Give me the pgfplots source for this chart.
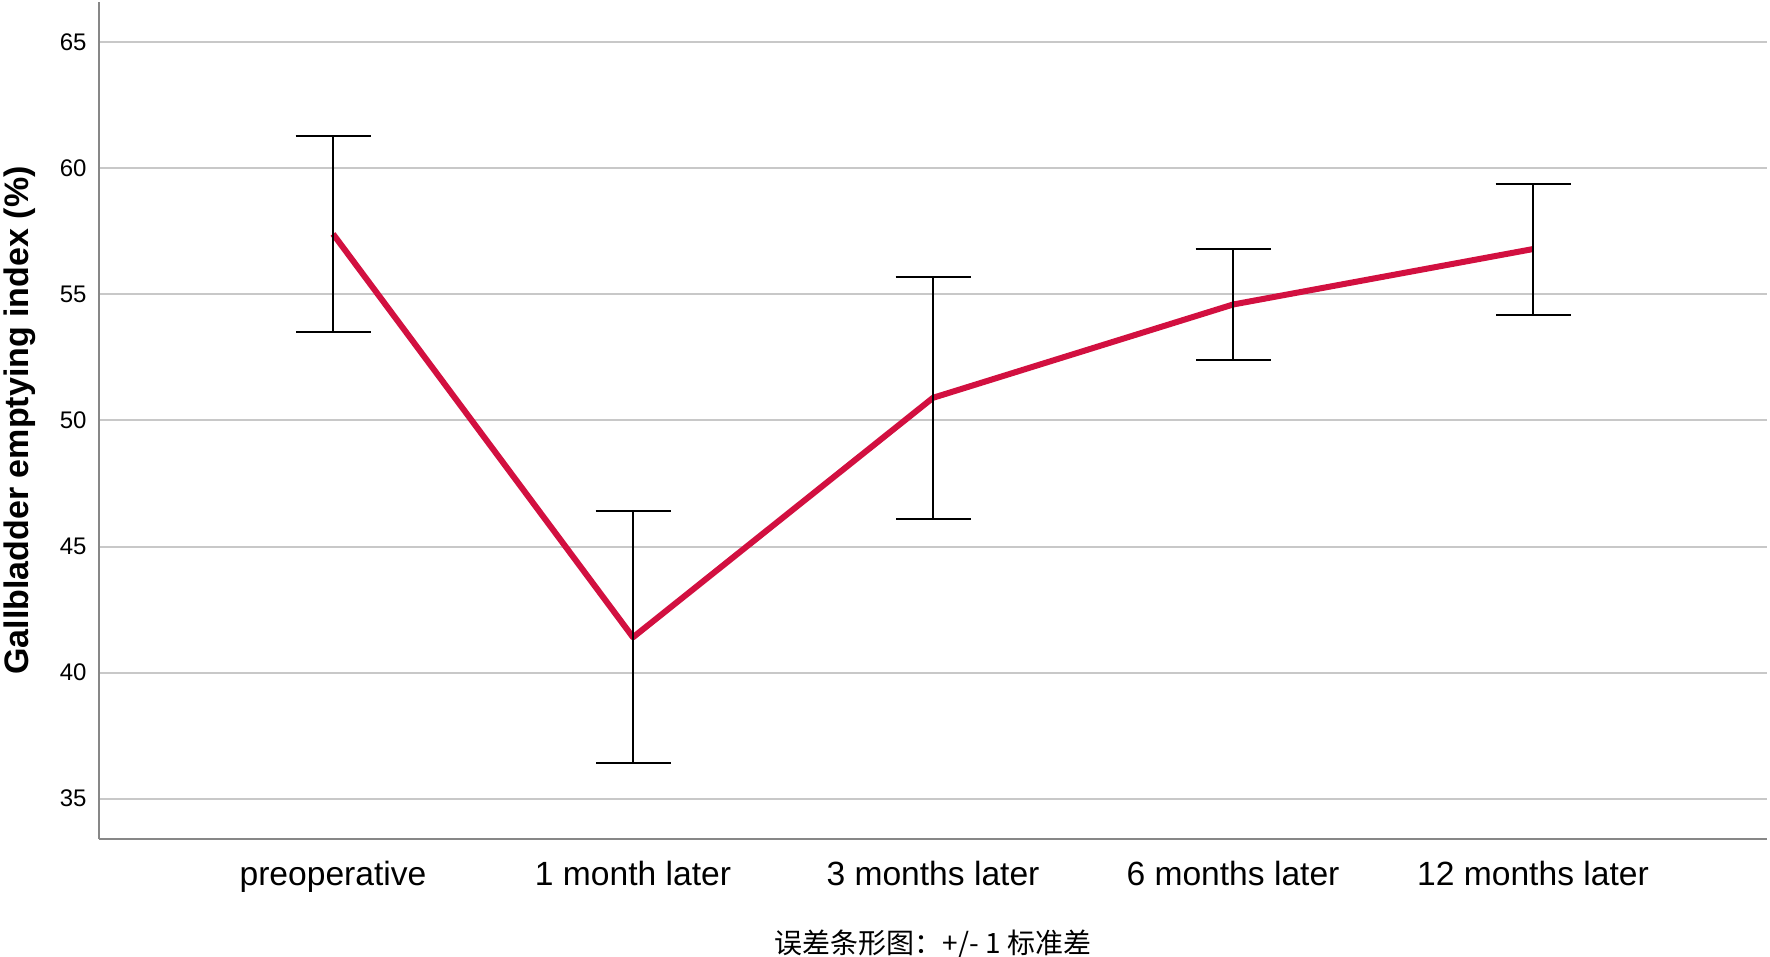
\documentclass[border=0pt]{standalone}
\usepackage{fontspec}
\setmainfont{Liberation Sans}
\newfontfamily\cjk{Noto Sans CJK SC}
\usepackage{pgfplots}
\pgfplotsset{compat=1.18}
\usepackage{pgfplotstable}
\definecolor{linered}{RGB}{210,16,64}
\definecolor{gridgray}{RGB}{200,200,200}
\definecolor{axisgray}{RGB}{135,135,135}

% mean and +/- 1 SD
\pgfplotstableread{
x  y     ep    em
0  57.4  3.9   3.9
1  41.4  5.0   5.0
2  50.9  4.8   4.8
3  54.6  2.2   2.2
4  56.8  2.6   2.6
}\gbdata

\begin{document}
\begin{tikzpicture}
\begin{axis}[
  scale only axis,
  width=834pt, height=418.5pt,
  xmin=-0.78, xmax=4.78,
  ymin=33.4, ymax=66.6,
  axis x line*=bottom, axis y line*=left,
  axis line style={-, axisgray, line width=1.3pt},
  xtick={0,...,4},
  xticklabels={preoperative, 1 month later, 3 months later, 6 months later, 12 months later},
  ytick={35,40,...,65},
  major tick length=0pt,
  ymajorgrids, grid style={gridgray, line width=1pt},
  /pgf/number format/assume math mode=true,
  yticklabel style={font=\fontsize{12}{13}\selectfont, inner sep=0pt, xshift=-6pt},
  xticklabel style={font=\fontsize{16.8}{18}\selectfont, inner sep=0pt, text height=12pt, text depth=3.5pt, yshift=-11pt},
  ylabel={\bfseries Gallbladder emptying index (\%)},
  ylabel style={font=\fontsize{17}{18}\selectfont, at={(axis description cs:-0.0475,0.5)}, anchor=center},
  clip=false,
]
\addplot[linered, line width=3pt, line join=round,
  error bars/.cd, y dir=both, y explicit,
  error bar style={black, line width=1pt},
  error mark options={black, line width=1pt, mark size=18.75pt, rotate=90}]
  table[x=x, y=y, y error plus=ep, y error minus=em] {\gbdata};
\node[font=\cjk\fontsize{14}{15}\selectfont, anchor=center, yshift=-52.5pt]
  at (axis description cs:0.5,0) {误差条形图：+/- 1 标准差};
\coordinate (bbsw) at (axis description cs:0,0);
\coordinate (bbne) at (axis description cs:1,1);
\end{axis}
\pgfresetboundingbox
\path[use as bounding box] ([xshift=-49.5pt,yshift=-59pt]bbsw) rectangle ([xshift=1.5pt,yshift=1pt]bbne);
\end{tikzpicture}
\end{document}
